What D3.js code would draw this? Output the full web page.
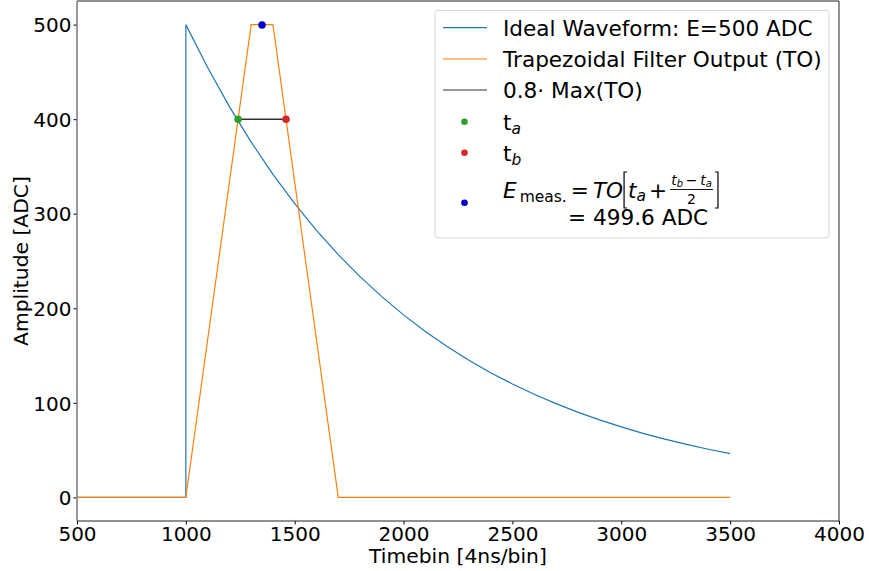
<!DOCTYPE html>
<html>
<head>
<meta charset="utf-8">
<script src="https://cdn.jsdelivr.net/npm/d3@7"></script>
<style>
  html, body { margin: 0; padding: 0; background: #fff; }
  svg { display: block; font-family: "DejaVu Sans", sans-serif; }
</style>
</head>
<body>
<svg id="chart" width="869" height="571"></svg>
<script>
// ---------------- data ----------------
const waveTime = [500, 1000, 1000, 1100, 1200, 1300, 1400, 1500, 1600, 1700, 1800, 1900, 2000,
  2100, 2200, 2300, 2400, 2500, 2600, 2700, 2800, 2900, 3000, 3100, 3200, 3300, 3400, 3500];
const waveValue = [0, 0, 500, 454.6, 413.3, 375.8, 341.7, 310.6, 282.4, 256.8, 233.5, 212.3, 193.0,
  175.5, 159.5, 145.0, 131.9, 119.9, 109.0, 99.1, 90.1, 81.9, 74.5, 67.7, 61.6, 56.0, 50.9, 46.3];

const trapTime = [500, 1000, 1300, 1400, 1700, 3500];
const trapValue = [0, 0, 500, 500, 0, 0];

const thresholdTime = [1240, 1460];
const thresholdValue = [400, 400];

const taPoint = [1240, 400];
const tbPoint = [1460, 400];
const ePoint = [1350, 499.6];

const xTicks = [500, 1000, 1500, 2000, 2500, 3000, 3500, 4000];
const yTicks = [0, 100, 200, 300, 400, 500];
const xDomain = [500, 4000];
const yDomain = [-25, 525];

const legendLabels = ["Ideal Waveform: E=500 ADC", "Trapezoidal Filter Output (TO)", "0.8\u00B7 Max(TO)"];

// ---------------- layout ----------------
const svg = d3.select("#chart");
const L = 77, R = 839, T = 1, B = 521;
const x = d3.scaleLinear().domain(xDomain).range([L, R]);
const y = d3.scaleLinear().domain(yDomain).range([B, T]);

const C = { blue: "#1f77b4", orange: "#ff7f0e", green: "#2ca02c", red: "#d62728", dblue: "#0000cc", black: "#333" };

const line = d3.line().x(d => x(d[0])).y(d => y(d[1]));
const zip = (a, b) => a.map((v, i) => [v, b[i]]);

const plot = svg.append("g");
plot.append("path").datum(zip(waveTime, waveValue)).attr("d", line)
  .attr("fill", "none").attr("stroke", C.blue).attr("stroke-width", 1.2);
plot.append("path").datum(zip(trapTime, trapValue)).attr("d", line)
  .attr("fill", "none").attr("stroke", C.orange).attr("stroke-width", 1.2);
plot.append("path").datum(zip(thresholdTime, thresholdValue)).attr("d", line)
  .attr("fill", "none").attr("stroke", C.black).attr("stroke-width", 1.4);
[[taPoint, C.green], [tbPoint, C.red], [ePoint, C.dblue]].forEach(([p, c]) => {
  plot.append("circle").attr("cx", x(p[0])).attr("cy", y(p[1])).attr("r", 3.8).attr("fill", c);
});

// ---------------- axes ----------------
const xAxis = svg.append("g").attr("transform", `translate(0,${B})`)
  .call(d3.axisBottom(x).tickValues(xTicks).tickSize(3.5).tickFormat(d3.format("d")));
xAxis.select(".domain").remove();
xAxis.selectAll("text").attr("dy", null).attr("y", 20).attr("font-size", 20)
  .attr("font-family", "DejaVu Sans").attr("fill", "#000");
xAxis.selectAll("line").attr("stroke", "#000");

const yAxis = svg.append("g").attr("transform", `translate(${L},0)`)
  .call(d3.axisLeft(y).tickValues(yTicks).tickSize(3.5).tickPadding(2).tickFormat(d3.format("d")));
yAxis.select(".domain").remove();
yAxis.selectAll("text").attr("dy", "0.36em").attr("font-size", 20)
  .attr("font-family", "DejaVu Sans").attr("fill", "#000");
yAxis.selectAll("line").attr("stroke", "#000");

// spines
svg.append("line").attr("x1", L).attr("x2", R).attr("y1", T).attr("y2", T).attr("stroke", "#222").attr("stroke-width", 1);
svg.append("line").attr("x1", L).attr("x2", R).attr("y1", B).attr("y2", B).attr("stroke", "#222").attr("stroke-width", 1);
svg.append("line").attr("x1", R).attr("x2", R).attr("y1", T).attr("y2", B).attr("stroke", "#222").attr("stroke-width", 1);
svg.append("line").attr("x1", L).attr("x2", L).attr("y1", T).attr("y2", B).attr("stroke", "#808080").attr("stroke-width", 1.6);

// axis labels
svg.append("text").attr("x", (L + R) / 2).attr("y", 562.5).attr("text-anchor", "middle")
  .attr("font-size", 20.3).text("Timebin [4ns/bin]");
svg.append("text").attr("transform", `translate(28,${(T + B) / 2}) rotate(-90)`).attr("text-anchor", "middle")
  .attr("font-size", 20.3).text("Amplitude [ADC]");

// ---------------- legend ----------------
const lg = svg.append("g");
lg.append("rect").attr("x", 435).attr("y", 10.5).attr("width", 394).attr("height", 227.5)
  .attr("rx", 3).attr("fill", "#fff").attr("fill-opacity", 0.8).attr("stroke", "#d5d5d5").attr("stroke-width", 1);

const FS = 21.6, SUB = 15.5;
const TX = 503;
const lineRows = [27.7, 59, 90];
const lineColors = [C.blue, C.orange, C.black];
legendLabels.forEach((lab, i) => {
  lg.append("line").attr("x1", 443).attr("x2", 487).attr("y1", lineRows[i]).attr("y2", lineRows[i])
    .attr("stroke", lineColors[i]).attr("stroke-width", 1.2);
  lg.append("text").attr("x", TX).attr("y", lineRows[i] + 8).attr("font-size", FS).text(lab);
});

// dot entries
const dotRows = [121.7, 152.7, 202.7];
const dotColors = [C.green, C.red, C.dblue];
dotRows.forEach((r, i) => lg.append("circle").attr("cx", 464.5).attr("cy", r).attr("r", 3.3).attr("fill", dotColors[i]));

function subLabel(yb, base, sub) {
  const t = lg.append("text").attr("x", TX).attr("y", yb).attr("font-size", FS);
  t.append("tspan").text(base);
  t.append("tspan").attr("font-size", SUB).attr("font-style", "italic").attr("dy", 4).text(sub);
}
subLabel(129.5, "t", "a");
subLabel(160.5, "t", "b");

// formula: E_meas. = TO[ t_a + (t_b - t_a)/2 ]
let cx = TX;
const yb1 = 198;
function piece(txt, size, italic, yy, gapAfter) {
  const el = lg.append("text").attr("x", cx).attr("y", yy).attr("font-size", size)
    .attr("font-style", italic ? "italic" : "normal").text(txt);
  const w = el.node().getComputedTextLength();
  cx += w + (gapAfter || 0);
  return el;
}
piece("E", FS, true, yb1, 3);
piece("meas.", SUB, false, yb1 + 4, 4);
piece("=", FS, false, yb1, 4);
piece("TO", FS, true, yb1, 0);
// left bracket
const brTop = 172, brBot = 208;
lg.append("path").attr("d", `M${cx + 4},${brTop} L${cx + 1},${brTop} L${cx + 1},${brBot} L${cx + 4},${brBot}`)
  .attr("fill", "none").attr("stroke", "#000").attr("stroke-width", 1.2);
cx += 5;
piece("t", FS, true, yb1, 0);
piece("a", SUB, true, yb1 + 3, 3);
piece("+", FS, false, yb1, 3);
// fraction
const fx0 = cx;
const FR = 14;
const num = lg.append("text").attr("y", 185).attr("font-size", FR).attr("font-style", "italic");
num.append("tspan").text("t");
num.append("tspan").attr("font-size", 10).attr("dy", 2).text("b");
num.append("tspan").attr("dy", -2).attr("font-style", "normal").text("\u2009\u2212\u2009");
num.append("tspan").text("t");
num.append("tspan").attr("font-size", 10).attr("dy", 2).text("a");
num.attr("x", fx0 + 1);
const nw = num.node().getComputedTextLength();
const fw = nw + 2;
lg.append("line").attr("x1", fx0).attr("x2", fx0 + fw).attr("y1", 189.5).attr("y2", 189.5)
  .attr("stroke", "#000").attr("stroke-width", 0.9);
lg.append("text").attr("x", fx0 + fw / 2).attr("y", 203.5).attr("font-size", FR).attr("text-anchor", "middle").text("2");
cx = fx0 + fw + 2;
lg.append("path").attr("d", `M${cx},${brTop} L${cx + 3},${brTop} L${cx + 3},${brBot} L${cx},${brBot}`)
  .attr("fill", "none").attr("stroke", "#000").attr("stroke-width", 1.2);

lg.append("text").attr("x", 568).attr("y", 225).attr("font-size", FS).text("= 499.6 ADC");
</script>
</body>
</html>
